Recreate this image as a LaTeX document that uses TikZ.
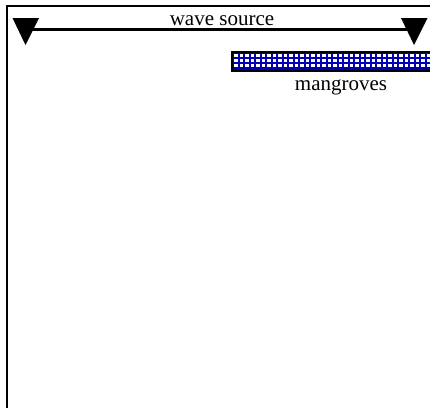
\documentclass[tikz,border=0pt]{standalone}
\usepackage{fontspec}
\setmainfont{Liberation Serif}
\begin{document}
\begin{tikzpicture}[x=1pt,y=-1pt,
  frameline/.style={line width=1.5pt},
  waveline/.style={line width=3pt},
  tri/.style={fill=black},
  lbl/.style={font=\fontsize{21}{23}\selectfont, inner sep=0pt},
  cell/.style={fill=white}]
\useasboundingbox (0,0) rectangle (430,408);
% frame
\draw[frameline] (7,408) -- (7,6) -- (432,6);
% wave source
\coordinate (wl) at (25.5,29);
\coordinate (wr) at (414,29);
\draw[waveline] (wl) -- (wr);
\fill[tri] (12.5,18) -- (39,18) -- (25.5,45) -- cycle;
\fill[tri] (401,18) -- (427.5,18) -- (414,45) -- cycle;
\node[lbl, anchor=base] (ws) at (222,25) {wave source};
% mangroves
\fill[blue!70!black] (232,52) rectangle (432,71);
\begin{scope}
\clip (232,52) rectangle (432,71);
\foreach \x in {234,239.5,...,432}
  \foreach \y in {53.6,58.6,63.6}
    \fill[cell] (\x,\y) rectangle ++(3.5,3.2);
\end{scope}
\draw[line width=1.5pt] (432,52) -- (232,52) -- (232,71) -- (432,71);
\node[lbl, anchor=base] (mg) at (341,90) {mangroves};
\end{tikzpicture}
\end{document}
